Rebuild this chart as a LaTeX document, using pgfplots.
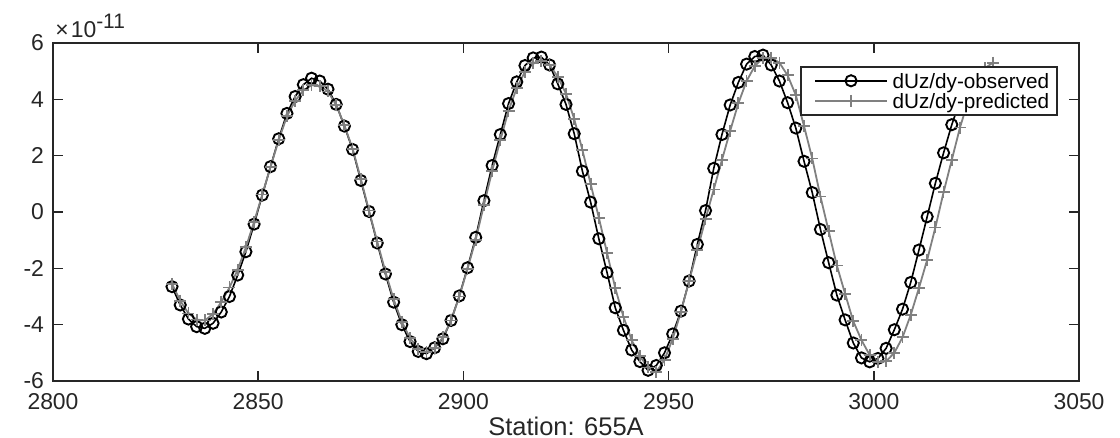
\documentclass[border=0pt]{standalone}
\usepackage{fontspec}
\setmainfont{Liberation Sans}
\usepackage{pgfplots}
\usepackage{pgfplotstable}
\pgfplotsset{compat=1.18}
\definecolor{axgray}{RGB}{38,38,38}
\definecolor{predgray}{RGB}{128,128,128}

% values in units of 1e-11
\pgfplotstableread{
x y
2829 -2.65
2831 -3.30
2833 -3.80
2835 -4.07
2837 -4.13
2839 -3.95
2841 -3.55
2843 -3.00
2845 -2.24
2847 -1.41
2849 -0.43
2851 0.60
2853 1.61
2855 2.60
2857 3.50
2859 4.10
2861 4.52
2863 4.75
2865 4.65
2867 4.36
2869 3.82
2871 3.05
2873 2.22
2875 1.12
2877 0.02
2879 -1.10
2881 -2.20
2883 -3.20
2885 -4.00
2887 -4.60
2889 -4.95
2891 -5.03
2893 -4.82
2895 -4.50
2897 -3.85
2899 -2.98
2901 -1.98
2903 -0.90
2905 0.40
2907 1.65
2909 2.75
2911 3.85
2913 4.62
2915 5.20
2917 5.47
2919 5.50
2921 5.22
2923 4.55
2925 3.82
2927 2.78
2929 1.45
2931 0.35
2933 -0.95
2935 -2.15
2937 -3.40
2939 -4.20
2941 -4.90
2943 -5.31
2945 -5.62
2947 -5.45
2949 -5.00
2951 -4.33
2953 -3.52
2955 -2.45
2957 -1.15
2959 0.05
2961 1.55
2963 2.75
2965 3.80
2967 4.60
2969 5.25
2971 5.52
2973 5.57
2975 5.22
2977 4.65
2979 3.88
2981 2.98
2983 1.80
2985 0.69
2987 -0.62
2989 -1.80
2991 -2.95
2993 -3.83
2995 -4.65
2997 -5.18
2999 -5.32
3001 -5.20
3003 -4.84
3005 -4.18
3007 -3.45
3009 -2.50
3011 -1.35
3013 -0.17
3015 1.02
3017 2.10
3019 3.10
3021 3.95
3023 4.60
}\observed

\pgfplotstableread{
x y
2829 -2.55
2831 -3.15
2833 -3.60
2835 -3.82
2837 -3.85
2839 -3.62
2841 -3.20
2843 -2.68
2845 -2.05
2847 -1.25
2849 -0.35
2851 0.62
2853 1.60
2855 2.55
2857 3.40
2859 3.95
2861 4.32
2863 4.50
2865 4.48
2867 4.28
2869 3.80
2871 3.08
2873 2.25
2875 1.18
2877 0.05
2879 -1.05
2881 -2.12
2883 -3.10
2885 -3.90
2887 -4.48
2889 -4.85
2891 -4.97
2893 -4.82
2895 -4.45
2897 -3.85
2899 -3.00
2901 -2.02
2903 -0.98
2905 0.25
2907 1.45
2909 2.55
2911 3.60
2913 4.40
2915 4.98
2917 5.28
2919 5.35
2921 5.22
2923 4.80
2925 4.20
2927 3.30
2929 2.20
2931 1.00
2933 -0.20
2935 -1.45
2937 -2.70
2939 -3.72
2941 -4.55
2943 -5.12
2945 -5.52
2947 -5.68
2949 -5.25
2951 -4.50
2953 -3.55
2955 -2.45
2957 -1.35
2959 -0.25
2961 0.80
2963 1.85
2965 2.88
2967 3.86
2969 4.65
2971 5.18
2973 5.47
2975 5.48
2977 5.30
2979 4.85
2981 4.15
2983 3.05
2985 1.90
2987 0.55
2989 -0.68
2991 -1.90
2993 -2.90
2995 -3.88
2997 -4.55
2999 -5.08
3001 -5.32
3003 -5.30
3005 -5.00
3007 -4.45
3009 -3.65
3011 -2.70
3013 -1.70
3015 -0.55
3017 0.70
3019 1.85
3021 3.00
3023 3.95
3025 4.65
3027 5.10
3029 5.30
}\predicted

\begin{document}
\begin{tikzpicture}
\begin{axis}[
  width=513bp, height=169bp, scale only axis,
  xmin=2800, xmax=3050, ymin=-6, ymax=6,
  xtick={2800,2850,2900,2950,3000,3050},
  ytick={-6,-4,-2,0,2,4,6},
  tick align=inside, major tick length=5bp,
  axis line style={axgray, line width=0.8bp},
  every tick/.style={axgray, line width=0.8bp},
  tick label style={font=\fontsize{11.5}{13}\selectfont, text=axgray},
  xticklabel style={yshift=-2.5bp},
  yticklabel style={xshift=-1bp},
  /pgf/number format/assume math mode=true,
  /pgf/number format/1000 sep={},
  scaled ticks=false,
  xlabel={Station: 655A},
  xlabel style={font=\fontsize{12.8}{14}\selectfont, text=axgray, yshift=3bp},
  legend style={at={(0.9795,0.932)}, anchor=north east, draw=axgray,
    line width=0.8bp, fill=white, font=\fontsize{10.4}{12}\selectfont,
    inner xsep=4bp, inner ysep=2bp, row sep=0pt,
    nodes={inner sep=0pt, text height=9bp, text depth=1bp},
    /tikz/every odd column/.append style={column sep=2.3bp}},
  legend cell align=left,
  legend image code/.code={\path (-2.7bp,0bp); \draw[mark repeat=2,mark phase=2] plot coordinates {(0bp,0bp) (18bp,0bp) (36bp,0bp)};},
]
\addplot[black, line width=0.8bp, mark=o, mark size=2.8bp, mark options={line width=0.95bp, solid}] table[x=x,y=y] {\observed};
\addlegendentry{dUz/dy-observed}
\addplot[predgray, line width=0.9bp, mark=+, mark size=3bp, mark options={line width=0.9bp, solid}] table[x=x,y=y] {\predicted};
\addlegendentry{dUz/dy-predicted}
\end{axis}
\node[anchor=base west, text=axgray, font=\fontsize{11.5}{13}\selectfont, inner sep=0pt] at (current axis.north west) [xshift=1bp, yshift=3bp] {×\kern1bp10\raisebox{4.5bp}{\fontsize{10.5}{12}\selectfont -11}};
\pgfresetboundingbox
\path[use as bounding box] (-26.5bp,-28.5bp) rectangle (533.5bp,190.5bp);
\end{tikzpicture}
\end{document}
